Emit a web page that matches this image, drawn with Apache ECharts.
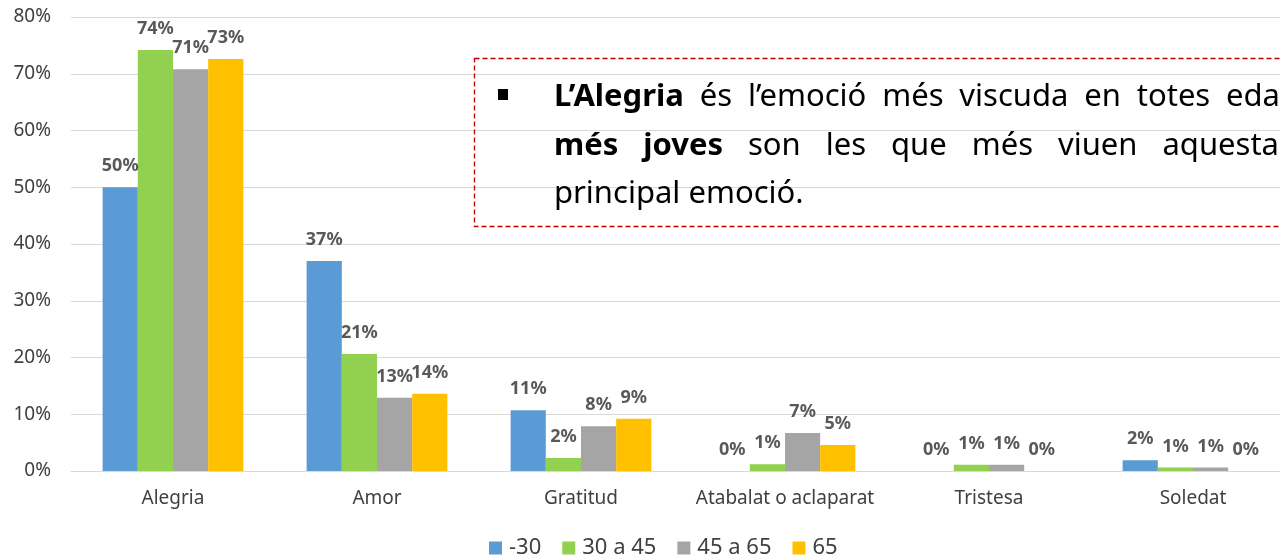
<!DOCTYPE html>
<html><head><meta charset="utf-8">
<script src="https://cdn.jsdelivr.net/npm/echarts@6/dist/echarts.min.js"></script>
<style>html,body{margin:0;padding:0;background:#fff;overflow:hidden;width:1280px;height:559px}#c{width:1300px;height:559px}</style>
</head><body><div id="c"></div>
<script>
const categories = ['Alegria','Amor','Gratitud','Atabalat o aclaparat','Tristesa','Soledat'];
const seriesNames = ['-30','30 a 45','45 a 65','65'];
const s_menys30 = [50.0, 37.0, 10.7, 0, 0, 1.9];
const s_30a45 = [74.2, 20.6, 2.3, 1.2, 1.1, 0.6];
const s_45a65 = [70.8, 12.9, 7.9, 6.7, 1.1, 0.6];
const s_65 = [72.6, 13.6, 9.2, 4.6, 0, 0];
const colors = ['#5B9BD5','#92D050','#A5A5A5','#FFC000'];
const boxLine1 = [['L’Alegria',true],['és',false],['l’emoció',false],['més',false],['viscuda',false],['en',false],['totes',false],['edats',false]];
const boxLine2 = [['més',true],['joves',true],['son',false],['les',false],['que',false],['més',false],['viuen',false],['aquesta',false]];
const boxLine3 = 'principal emoció.';

const FONT = '"Noto Sans", sans-serif';
const BOXFONT = '"Noto Sans", sans-serif';
const BOXSIZE = 31;
const chart = echarts.init(document.getElementById('c'));
const mk = (name, data, i) => ({
  name, type: 'bar', data, barGap: '0%', barCategoryGap: '31%',
  itemStyle: {color: colors[i]},
  label: {show: true, position: 'top', distance: 12, fontFamily: FONT, fontWeight: 'bold', fontSize: 18, color: '#595959',
    formatter: p => Math.round(p.value) + '%'}
});

// justified word layout for the note box (text layout only)
const ctx = document.createElement('canvas').getContext('2d');
const fontOf = b => (b ? 'bold ' : '') + BOXSIZE + 'px ' + BOXFONT;
const wOf = (t, b) => { ctx.font = fontOf(b); return ctx.measureText(t).width; };
const graphics = [
  {type:'rect', shape:{x:474.5, y:58.5, width:850, height:168}, style:{fill:'none', stroke:'#C00000', lineWidth:1.3, lineDash:[5,3]}, z:10},
  {type:'rect', shape:{x:498, y:89, width:10, height:11}, style:{fill:'#000'}, z:11}
];
function layoutLine(words, x0, lastStart, y) {
  const widths = words.map(w => wOf(w[0], w[1]));
  const inner = widths.slice(0, -1).reduce((a, b) => a + b, 0);
  const gap = (lastStart - x0 - inner) / (words.length - 1);
  let x = x0;
  words.forEach((w, i) => {
    graphics.push({type:'text', x: x, y: y, style:{text:w[0], font:fontOf(w[1]), fill:'#000', verticalAlign:'middle'}, z:11});
    x += widths[i] + gap;
  });
}
layoutLine(boxLine1, 554, 1280 - wOf('eda', false), 97);
layoutLine(boxLine2, 554, 1279 - wOf('aquesta', false), 146);
graphics.push({type:'text', x:554, y:194, style:{text:boxLine3, font:fontOf(false), fill:'#000', verticalAlign:'middle'}, z:11});

chart.setOption({
  animation: false,
  grid: {left: 71, top: 17, right: 5, bottom: 88, containLabel: false},
  legend: {bottom: -5, left: 484, itemWidth: 13, itemHeight: 13, itemGap: 21, icon: 'rect',
    textStyle: {fontFamily: FONT, fontSize: 22, color: '#404040', padding: [0,0,0,2]}, data: seriesNames},
  xAxis: {type: 'category', data: categories,
    axisLine: {lineStyle: {color: '#D9D9D9'}}, axisTick: {show: false},
    axisLabel: {interval: 0, fontFamily: FONT, fontSize: 19, color: '#404040', margin: 18}},
  yAxis: {type: 'value', min: 0, max: 80, interval: 10,
    axisLine: {show: false}, axisTick: {show: false},
    splitLine: {lineStyle: {color: '#D9D9D9'}},
    axisLabel: {fontFamily: FONT, fontSize: 19, color: '#404040', margin: 20, formatter: '{value}%'}},
  series: [mk(seriesNames[0], s_menys30, 0), mk(seriesNames[1], s_30a45, 1), mk(seriesNames[2], s_45a65, 2), mk(seriesNames[3], s_65, 3)],
  graphic: graphics
});
</script></body></html>
